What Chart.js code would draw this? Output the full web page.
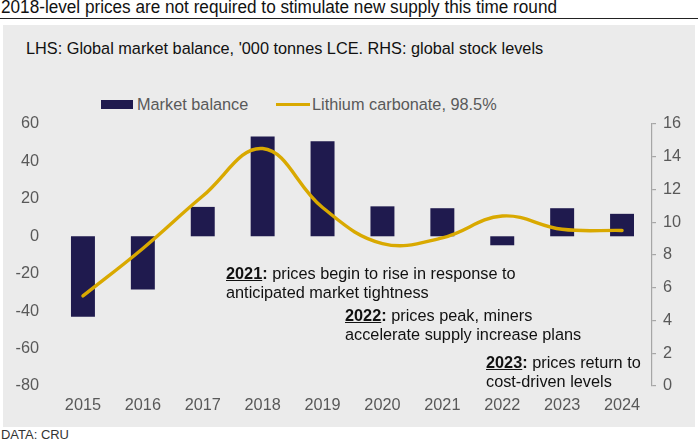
<!DOCTYPE html>
<html><head><meta charset="utf-8">
<script src="https://cdn.jsdelivr.net/npm/chart.js@4.4.0/dist/chart.umd.min.js"></script>
<style>
html,body{margin:0;padding:0;background:#fff;}
body{width:698px;height:440px;position:relative;overflow:hidden;font-family:"Liberation Sans",Arial,sans-serif;}
#panel{position:absolute;left:3px;top:25px;width:692px;height:402px;background:#ebebeb;}
#rule{position:absolute;left:0;top:18px;width:698px;height:1px;background:#222;}
.t{position:absolute;white-space:nowrap;line-height:1;}
.fit{transform-origin:0 0;display:inline-block;}
#title{left:1px;top:-1px;font-size:17.5px;color:#111;font-family:"Liberation Sans Narrow","Arial Narrow","Liberation Sans",Arial,sans-serif;}
#sub{left:26px;top:40px;font-size:16.3px;color:#111;}
#src{left:1px;top:429px;font-size:12.5px;color:#333;font-family:"Liberation Sans Narrow","Arial Narrow","Liberation Sans",Arial,sans-serif;}
.leg{position:absolute;top:96px;font-size:16.3px;color:#595959;white-space:nowrap;line-height:1;}
.ann{position:absolute;font-size:16.3px;color:#111;line-height:19px;white-space:nowrap;}
.ann b{text-decoration:underline;}
canvas{position:absolute;left:0;top:0;}
</style></head>
<body>
<div id="panel"></div>
<div id="rule"></div>
<div class="t" id="title"><span class="fit" data-w="556">2018-level prices are not required to stimulate new supply this time round</span></div>
<div class="t" id="sub">LHS: Global market balance, '000 tonnes LCE. RHS: global stock levels</div>
<div style="position:absolute;left:101px;top:100px;width:32px;height:9px;background:#1f1a4e;"></div>
<div class="leg" style="left:137px;">Market balance</div>
<div style="position:absolute;left:276px;top:103px;width:34px;height:3px;background:#d9a900;"></div>
<div class="leg" style="left:312px;">Lithium carbonate, 98.5%</div>
<div class="t" id="src"><span class="fit" data-w="68">DATA: CRU</span></div>
<div style="position:absolute;left:0;top:0;width:698px;height:440px;">
<canvas id="c" width="698" height="440"></canvas>
</div>
<div class="ann" style="left:226px;top:264px;"><b>2021</b><b style="text-decoration:none">:</b> prices begin to rise in response to<br>anticipated market tightness</div>
<div class="ann" style="left:345px;top:306px;"><b>2022</b><b style="text-decoration:none">:</b> prices peak, miners<br>accelerate supply increase plans</div>
<div class="ann" style="left:486px;top:353px;"><b>2023</b><b style="text-decoration:none">:</b> prices return to<br>cost-driven levels</div>
<script>
const years = ["2015","2016","2017","2018","2019","2020","2021","2022","2023","2024"];
const marketBalance = [-43, -28.5, 15.7, 53.3, 50.8, 16, 15, -4.8, 15, 12];
const lithiumCarbonate = [5.5, 8.4, 11.6, 14.5, 10.9, 8.7, 9.05, 10.38, 9.57, 9.5];
const leftTicks = [-80, -60, -40, -20, 0, 20, 40, 60];
const rightTicks = [0, 2, 4, 6, 8, 10, 12, 14, 16];

document.querySelectorAll('.fit').forEach(el=>{
  const w = el.getBoundingClientRect().width;
  const target = +el.dataset.w;
  if (w>0) el.style.transform = 'scaleX(' + (target/w) + ')';
});

const tickFont = {family:'"Liberation Sans", Arial, sans-serif', size:16.3};
new Chart(document.getElementById('c'), {
  type:'bar',
  data:{
    labels: years,
    datasets:[
      {type:'line', label:'Lithium carbonate, 98.5%', data: lithiumCarbonate, yAxisID:'y2',
       borderColor:'#d9a900', borderWidth:3.4, tension:0.4, pointRadius:0, fill:false, order:0, borderCapStyle:'round'},
      {type:'bar', label:'Market balance', data: marketBalance, yAxisID:'y',
       backgroundColor:'#1f1a4e', barPercentage:0.8, categoryPercentage:0.5, order:1}
    ]
  },
  options:{
    responsive:false, animation:false, devicePixelRatio:1,
    layout:{padding:{top:124, bottom:24, left:0, right:0}},
    plugins:{legend:{display:false}, tooltip:{enabled:false}},
    scales:{
      x:{grid:{display:false, drawTicks:false}, border:{display:false},
         ticks:{color:'#595959', font:tickFont, padding:10, maxRotation:0},
         afterFit:(s)=>{s.height=30;}},
      y:{position:'left', min:-80, max:60,
         grid:{display:false, drawTicks:false}, border:{display:false},
         afterBuildTicks:(s)=>{s.ticks = leftTicks.map(v=>({value:v}));},
         ticks:{color:'#595959', font:tickFont, padding:14},
         afterFit:(s)=>{s.width=53;}},
      y2:{position:'right', min:0, max:16,
         grid:{drawOnChartArea:false, color:'#a6a6a6', tickLength:4, lineWidth:1.2},
         border:{display:true, color:'#a6a6a6', width:1.2},
         afterBuildTicks:(s)=>{s.ticks = rightTicks.map(v=>({value:v}));},
         ticks:{color:'#595959', font:tickFont, padding:7},
         afterFit:(s)=>{s.width=46;}}
    }
  }
});
</script>
</body></html>
